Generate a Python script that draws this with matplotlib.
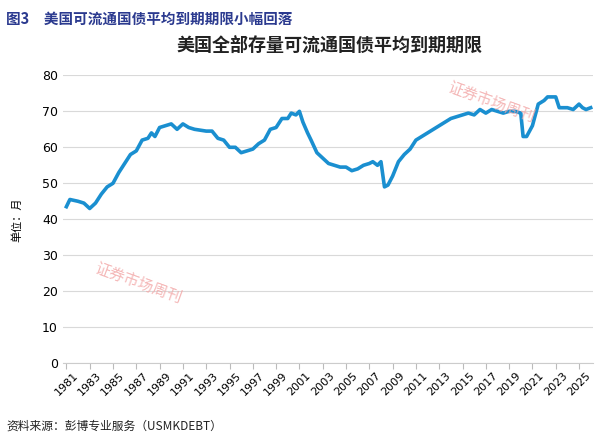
import matplotlib
matplotlib.use("Agg")
import matplotlib.pyplot as plt

plt.rcParams['font.family'] = ['Noto Sans CJK SC', 'DejaVu Sans']

years = [1981.0,1981.3,1982,1982.5,1983,1983.5,1984,1984.5,1985,1985.5,1986,1986.5,1987,1987.5,1988,1988.3,1988.6,1989,1989.5,1990,1990.5,1991,1991.5,1992,1993,1993.5,1994,1994.5,1995,1995.5,1996,1996.5,1997,1997.5,1998,1998.5,1999,1999.5,2000,2000.3,2000.7,2001,2001.3,2001.7,2002,2002.5,2003,2003.5,2004,2004.5,2005,2005.5,2006,2006.5,2007,2007.3,2007.7,2008,2008.3,2008.6,2009,2009.5,2010,2010.5,2011,2011.5,2012,2012.5,2013,2013.5,2014,2014.5,2015,2015.5,2016,2016.5,2017,2017.5,2018,2018.5,2019,2019.5,2020,2020.2,2020.5,2021,2021.5,2022,2022.3,2022.7,2023,2023.3,2023.7,2024,2024.5,2025,2025.3,2025.6,2026]
months = [43.5,45.5,45,44.5,43,44.5,47,49,50,53,55.5,58,59,62,62.5,64,63,65.5,66,66.5,65,66.5,65.5,65,64.5,64.5,62.5,62,60,60,58.5,59,59.5,61,62,65,65.5,68,68,69.5,69,70,67,64,62,58.5,57,55.5,55,54.5,54.5,53.5,54,55,55.5,56,55,56,49,49.5,52,56,58,59.5,62,63,64,65,66,67,68,68.5,69,69.5,69,70.5,69.5,70.5,70,69.5,70,70,69.5,63,63,66,72,73,74,74,74,71,71,71,70.5,72,71,70.5,71]
tick_years = list(range(1981, 2026, 2))
y_ticks = [0, 10, 20, 30, 40, 50, 60, 70, 80]

fig = plt.figure(figsize=(5.99, 4.43), dpi=100)
ax = fig.add_axes([0.105, 0.18, 0.885, 0.65])
ax.plot(years, months, color='#1a8fd0', lw=2.6)
ax.set_xlim(1980.7, 2026.2)
ax.set_ylim(0, 80)
ax.set_yticks(y_ticks)
ax.set_xticks(tick_years)
ax.set_xticklabels([str(y) for y in tick_years], rotation=45, fontsize=8, family='DejaVu Sans')
ax.tick_params(axis='x', length=4, color='#bbbbbb', pad=1)
ax.tick_params(axis='y', length=0, labelsize=9)
for l in ax.get_yticklabels():
    l.set_family('DejaVu Sans')
ax.grid(axis='y', color='#d9d9d9', lw=0.8)
ax.set_axisbelow(True)
for s in ['top', 'right', 'left']:
    ax.spines[s].set_visible(False)
ax.spines['bottom'].set_color('#cccccc')
ax.set_ylabel('单位：月', fontsize=8, labelpad=14)

fig.text(0.01, 0.975, '图3　美国可流通国债平均到期期限小幅回落', fontsize=10.5, color='#2b3a8f', weight='bold', va='top')
fig.text(0.55, 0.885, '美国全部存量可流通国债平均到期期限', fontsize=13, ha='center', weight='bold', color='#222222')
fig.text(0.01, 0.03, '资料来源：彭博专业服务（USMKDEBT）', fontsize=8.5, color='#222222')
fig.text(0.82, 0.77, '证券市场周刊', fontsize=11, color='#f2a6a6', rotation=-20, ha='center', va='center', alpha=0.8)
fig.text(0.23, 0.36, '证券市场周刊', fontsize=11, color='#f2a6a6', rotation=-20, ha='center', va='center', alpha=0.8)

fig.savefig('out.png', dpi=100)
